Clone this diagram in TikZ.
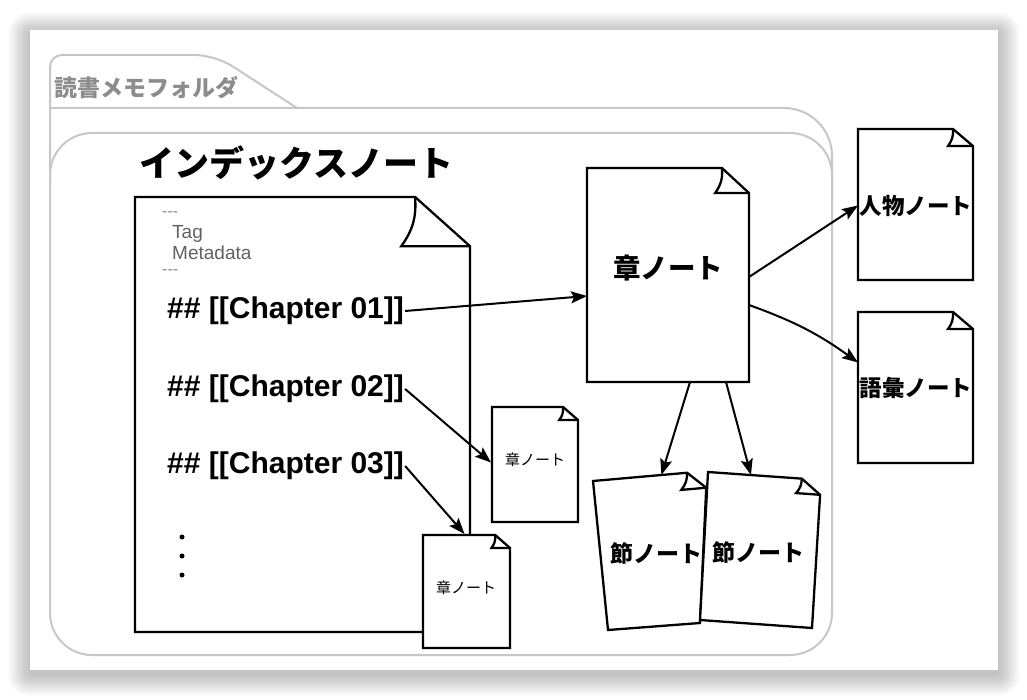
\documentclass[tikz,border=0pt]{standalone}
\usepackage{fontspec}
\setmainfont{Liberation Sans}
\newfontfamily\jp{Noto Sans CJK JP}
\usetikzlibrary{calc,arrows.meta}
\newcommand\fs[1]{\fontsize{#1}{#1}\selectfont}
\newcommand\corners[1]{%
  \coordinate (#1-tl) at (#1.north west);
  \coordinate (#1-tr) at (#1.north east);
  \coordinate (#1-br) at (#1.south east);
  \coordinate (#1-bl) at (#1.south west);}
\newcommand\paper[3]{%
  \coordinate (#1-a) at ($(#1-tr)!#2!(#1-tl)$);
  \coordinate (#1-b) at ($(#1-tr)!#3!(#1-br)$);
  \coordinate (#1-c) at ($(#1-a)+(#1-b)-(#1-tr)$);
  \coordinate (#1-d) at ($(#1-c)!-0.25!(#1-b)$);
  \draw[paper] (#1-tl) -- (#1-a) -- (#1-b) -- (#1-br) -- (#1-bl) -- cycle;
  \draw[paper, fill=none] (#1-a) to[bend left=20] (#1-d) -- (#1-b);}
\begin{document}
\begin{tikzpicture}[x=1pt,y=-1pt,
  folder/.style={draw=black!22, line width=2pt},
  paper/.style={draw=black, fill=white, line width=2.3pt, line join=miter},
  frame/.style={inner sep=0pt, outer sep=0pt, draw=none},
  conn/.style={draw=black, line width=2pt, -{Stealth[length=16pt,width=12pt,inset=3pt]}},
  chline/.style={anchor=west, font=\bfseries\fs{30}, inner sep=1pt},
  meta/.style={anchor=west, font=\fs{19}, text=black!62, inner sep=0pt},
  dashtext/.style={anchor=west, font=\fs{16}, text=black!45, inner sep=0pt},
  midlabel/.style={font=\jp\bfseries\fs{22.5}, inner sep=0pt}]
\useasboundingbox (0,0) rectangle (1027,700);
% card shadow
\foreach \i in {1,...,22}{
  \fill[black, opacity=0.011, rounded corners=\i pt] (30-\i,34-\i) rectangle (998+\i,674+\i);}
\fill[white] (30,30) rectangle (998,670);
% folder
\draw[folder] (50,185) [rounded corners=12pt] -- (50,55) [rounded corners=20pt] -- (215,55) [sharp corners] -- (297,108);
\draw[folder, rounded corners=48pt] (50,108) -- (832,108) -- (832,200);
\draw[folder, rounded corners=42pt] (50,133) rectangle (832,655);
\node[anchor=west, text=black!45, font=\jp\bfseries\fs{23}, inner sep=0pt] (ftitle) at (54,88) {読書メモフォルダ};
\node[anchor=west, font=\jp\bfseries\fs{35}, inner sep=0pt] (ititle) at (139,163) {インデックスノート};
% index note
\node[frame, minimum width=335pt, minimum height=435pt] (idx) at (302.5,414.5) {};
\corners{idx}\paper{idx}{0.164}{0.113}
\node[dashtext] (d1) at (162,214) {-{}-{}-};
\node[meta] (tag) at (172,234) {Tag};
\node[meta] (md) at (172,253) {Metadata};
\node[dashtext] (d2) at (162,272) {-{}-{}-};
\node[chline] (ch1) at (166,311) {\#\# [[Chapter 01]]};
\node[chline] (ch2) at (166,389) {\#\# [[Chapter 02]]};
\node[chline] (ch3) at (166,466) {\#\# [[Chapter 03]]};
\foreach \yy in {537,556,575}{\fill (182,\yy) circle (2.5pt);}
% chapter notes
\node[frame, minimum width=162pt, minimum height=214pt] (chap) at (668,275) {};
\corners{chap}\paper{chap}{0.167}{0.117}
\node[font=\jp\bfseries\fs{27.5}, inner sep=0pt] (chapl) at (668,268) {章ノート};
\node[frame, minimum width=86pt, minimum height=115pt] (A) at (535,464.5) {};
\corners{A}\paper{A}{0.174}{0.113}
\node[font=\jp\fs{15}, inner sep=0pt] (Al) at (535,460) {章ノート};
\node[frame, minimum width=87pt, minimum height=113pt] (B) at (466.5,591.5) {};
\corners{B}\paper{B}{0.17}{0.115}
\node[font=\jp\fs{15}, inner sep=0pt] (Bl) at (466,588) {章ノート};
% person / vocab
\node[frame, minimum width=115pt, minimum height=151pt] (person) at (915.5,204.5) {};
\corners{person}\paper{person}{0.174}{0.113}
\node[midlabel] (personl) at (916,206) {人物ノート};
\node[frame, minimum width=115pt, minimum height=151pt] (vocab) at (915.5,387.5) {};
\corners{vocab}\paper{vocab}{0.174}{0.113}
\node[midlabel] (vocabl) at (916,388) {語彙ノート};
% section notes
\coordinate (sec1-tl) at (593,481);
\coordinate (sec1-tr) at (707,471);
\coordinate (sec1-br) at (700,623);
\coordinate (sec1-bl) at (608,630);
\paper{sec1}{0.175}{0.11}
\node[midlabel, font=\jp\bfseries\fs{23}] (sec1l) at (656,553) {節ノート};
\coordinate (sec2-tl) at (708,472);
\coordinate (sec2-tr) at (821,480);
\coordinate (sec2-br) at (812,628);
\coordinate (sec2-bl) at (700,620);
\paper{sec2}{0.17}{0.1}
\node[midlabel, font=\jp\bfseries\fs{23}] (sec2l) at (758,552) {節ノート};
% connectors
\draw[conn] (ch1.east) -- ($(chap.west)+(0,21)$);
\draw[conn] (ch2.east) -- ($(A.west)+(-1,-2)$);
\draw[conn] (ch3.east) -- ($(B.north)+(-2,-1)$);
\draw[conn] ($(chap.east)+(0,2)$) -- ($(person.west)+(0,1)$);
\draw[conn] ($(chap.east)+(0,30)$) to[bend left=8] ($(vocab.west)+(0,-25)$);
\draw[conn] ($(chap.south)+(22,0)$) -- ($(sec1-tl)!0.6!(sec1-tr)$);
\draw[conn] ($(chap.south)+(58,0)$) -- ($(sec2-tl)!0.38!(sec2-tr)$);
\end{tikzpicture}
\end{document}
